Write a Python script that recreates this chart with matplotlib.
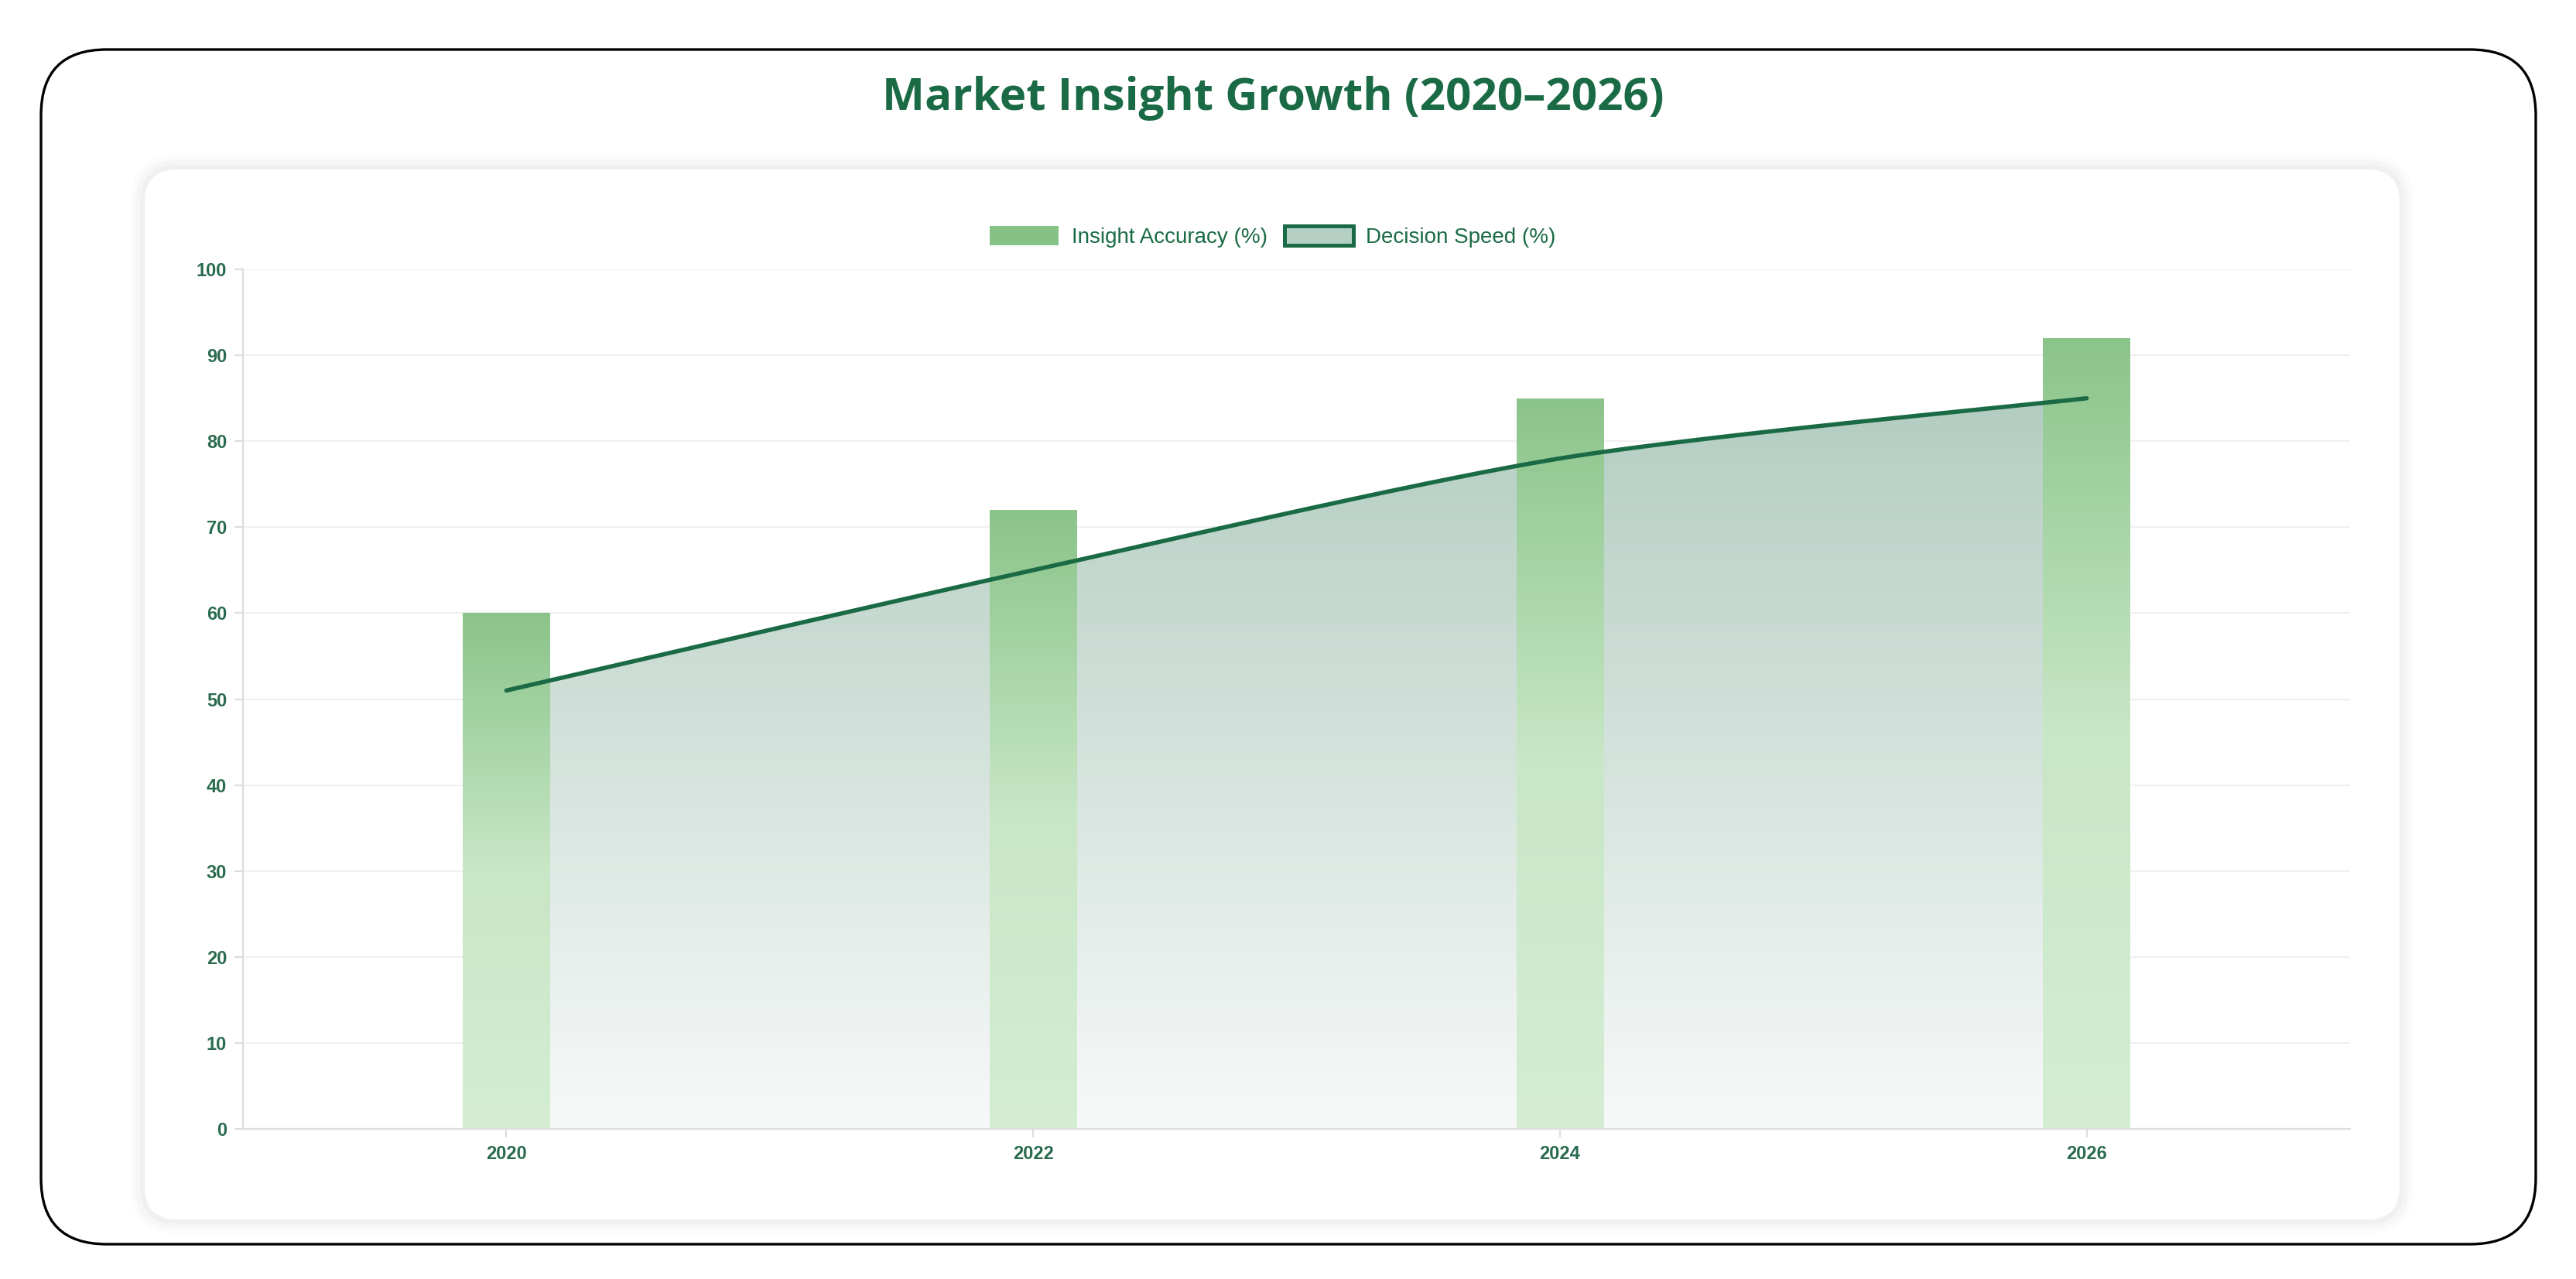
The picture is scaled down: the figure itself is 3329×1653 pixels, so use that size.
import numpy as np
import matplotlib
matplotlib.use("Agg")
import matplotlib.pyplot as plt
from matplotlib.patches import FancyBboxPatch, Rectangle, Patch, Polygon
from matplotlib.transforms import IdentityTransform
from matplotlib.colors import LinearSegmentedColormap

years = ["2020", "2022", "2024", "2026"]
insight_accuracy = [60, 72, 85, 92]
decision_speed = [51, 65, 78, 85]

GREEN = "#1a6b45"
TEXT = "#2a6b4f"

fig = plt.figure(figsize=(16.65, 8.265), dpi=200)

# outer rounded frame and inner card (pixel coords)
fig.add_artist(FancyBboxPatch((53, 45), 3224, 1544, boxstyle="round,pad=0,rounding_size=85",
                              transform=IdentityTransform(), fc="white", ec="black", lw=1.2))
for i, a in enumerate([0.015, 0.02, 0.025]):
    g = 18 - i * 6
    fig.add_artist(FancyBboxPatch((187 - g, 77 - g), 2914 + 2 * g, 1357 + 2 * g,
                                  boxstyle="round,pad=0,rounding_size=%d" % (42 + g),
                                  transform=IdentityTransform(), fc=(0, 0, 0, a), ec="none"))
fig.add_artist(FancyBboxPatch((187, 77), 2914, 1357, boxstyle="round,pad=0,rounding_size=42",
                              transform=IdentityTransform(), fc="white", ec="none"))

fig.text(0.494, 0.923, "Market Insight Growth (2020\u20132026)", ha="center", va="center",
         fontsize=21, fontweight="bold", color=GREEN, family="Open Sans")

ax = fig.add_axes([0.0943, 0.1174, 0.8177, 0.672])
ax.set_zorder(5)
ax.set_facecolor("none")
x = np.arange(len(years))
ax.set_xlim(-0.5, len(years) - 0.5)
ax.set_ylim(0, 100)
ax.set_yticks(range(0, 101, 10))
ax.set_xticks(x)
ax.set_xticklabels(years)
ax.tick_params(colors="#dddddd", labelcolor=TEXT, labelsize=8.5, length=4)
for lbl in ax.get_xticklabels() + ax.get_yticklabels():
    lbl.set_fontweight("bold")
    lbl.set_family("Liberation Sans")
ax.grid(axis="y", color="#f0f0f0", lw=0.8)
ax.set_axisbelow(True)
for s in ["top", "right"]:
    ax.spines[s].set_visible(False)
for s in ["left", "bottom"]:
    ax.spines[s].set_color("#dddddd")

# smooth line (cardinal spline through the data points)
def spline(xs, ys, tension=0.4, n=60):
    xs = np.asarray(xs, float); ys = np.asarray(ys, float)
    px, py = [], []
    m = len(xs)
    for i in range(m - 1):
        i0, i3 = max(i - 1, 0), min(i + 2, m - 1)
        mx1 = (xs[i + 1] - xs[i0]) * tension; my1 = (ys[i + 1] - ys[i0]) * tension
        mx2 = (xs[i3] - xs[i]) * tension; my2 = (ys[i3] - ys[i]) * tension
        t = np.linspace(0, 1, n)
        h00 = 2*t**3 - 3*t**2 + 1; h10 = t**3 - 2*t**2 + t
        h01 = -2*t**3 + 3*t**2; h11 = t**3 - t**2
        px.append(h00*xs[i] + h10*mx1 + h01*xs[i+1] + h11*mx2)
        py.append(h00*ys[i] + h10*my1 + h01*ys[i+1] + h11*my2)
    return np.concatenate(px), np.concatenate(py)

sx, sy = spline(x, decision_speed)
area_cmap = LinearSegmentedColormap.from_list("a", ["#f7f9f8", "#b3cdc2"])
poly = Polygon(np.column_stack([np.r_[sx, sx[-1], sx[0]], np.r_[sy, 0, 0]]),
               closed=True, fc="none", ec="none", transform=ax.transData)
ax.add_patch(poly)
grad = np.linspace(0, 1, 256).reshape(-1, 1)
im = ax.imshow(grad, cmap=area_cmap, origin="lower", aspect="auto",
               extent=(sx[0], sx[-1], 0, max(decision_speed)), zorder=1)
im.set_clip_path(poly)

# gradient bars
bar_cmap = LinearSegmentedColormap.from_list("b", ["#d4edd3", "#c8e7c6", "#8bc48a"])
w = 0.165
for xi, v in zip(x, insight_accuracy):
    r = Rectangle((xi - w / 2, 0), w, v, fc="none", ec="none")
    ax.add_patch(r)
    bi = ax.imshow(grad, cmap=bar_cmap, origin="lower", aspect="auto",
                   extent=(xi - w / 2, xi + w / 2, 0, v), zorder=2)
    bi.set_clip_path(r)

ax.plot(sx, sy, color=GREEN, lw=2, zorder=3, solid_capstyle="round")
ax.set_xlim(-0.5, len(years) - 0.5)
ax.set_ylim(0, 100)

handles = [Patch(fc="#86c186", ec="none", label="Insight Accuracy (%)"),
           Patch(fc="#b5cfc5", ec=GREEN, lw=1.8, label="Decision Speed (%)")]
leg = fig.legend(handles=handles, loc="center", bbox_to_anchor=(0.494, 0.815), ncol=2,
                 frameon=False, prop={"family": "Liberation Sans", "size": 10},
                 handlelength=3.2, handleheight=1.0, columnspacing=0.8, handletextpad=0.6)
for t in leg.get_texts():
    t.set_color(GREEN)

fig.savefig("out.png", dpi=200)
